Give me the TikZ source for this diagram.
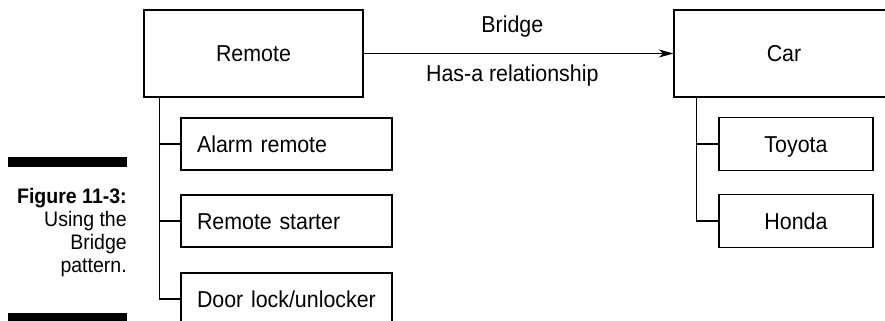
\documentclass[tikz,border=0pt]{standalone}
\usepackage{fontspec}
\setmainfont{Liberation Sans}[FakeStretch=0.93]
\usetikzlibrary{arrows.meta}
\tikzset{
  box/.style={draw, line width=0.8pt, inner sep=0pt, font=\fontsize{17.25}{20}\selectfont,
              text height=12.35pt, text depth=0pt},
  bigbox/.style={box, minimum width=164.25pt, minimum height=65.25pt},
  subbox/.style={box, minimum height=39pt, text width=134.25pt, align=left, inner xsep=12pt},
  carsub/.style={box, minimum width=115.5pt, minimum height=39.5pt},
  wire/.style={line width=0.8pt},
  lbl/.style={font=\fontsize{17.25}{20}\selectfont, inner sep=0pt, text height=12.35pt, text depth=0pt},
  captxt/.style={font=\fontsize{15.75}{20}\selectfont, inner sep=0pt, anchor=base east},
  blackbar/.style={fill=black, draw=none}
}
\begin{document}
\begin{tikzpicture}[x=0.75pt, y=-0.75pt]
\clip (0,0) rectangle (885,321);
\fill[white] (0,0) rectangle (885,321);
% bars
\fill[blackbar] (8,157) rectangle (127,167);
\fill[blackbar] (8,313) rectangle (127,323);
% caption
\node[captxt] (c1) at (127,203) {\bfseries Figure 11-3:};
\node[captxt] (c2) at (127,226) {Using the};
\node[captxt] (c3) at (127,249) {Bridge};
\node[captxt] (c4) at (127,272) {pattern.};
% main boxes
\node[bigbox] (remote) at (253.5,53.5) {Remote};
\node[bigbox, minimum width=165pt] (car) at (784,53.5) {Car};
\draw[wire, -{Stealth[length=11pt, width=6pt, inset=3pt]}] (remote.east) -- (car.west)
  node[lbl, pos=0.48, above=15pt] (bridge) {Bridge}
  node[lbl, pos=0.48, below=8.5pt] (hasa) {Has-a relationship};
% remote children
\node[subbox] (alarm) at (286.5,144) {Alarm remote};
\node[subbox] (starter) at (286.5,221) {Remote starter};
\node[subbox] (door) at (286.5,299) {Door lock/unlocker};
\draw[wire] ([xshift=12pt]remote.south west) |- (alarm.west);
\draw[wire] ([xshift=12pt]remote.south west) |- (starter.west);
\draw[wire] ([xshift=12pt]remote.south west) |- (door.west);
% car children
\node[carsub] (toyota) at (796,144) {Toyota};
\node[carsub] (honda) at (796,221) {Honda};
\draw[wire] ([xshift=17.25pt]car.south west) |- (toyota.west);
\draw[wire] ([xshift=17.25pt]car.south west) |- (honda.west);
\end{tikzpicture}
\end{document}
